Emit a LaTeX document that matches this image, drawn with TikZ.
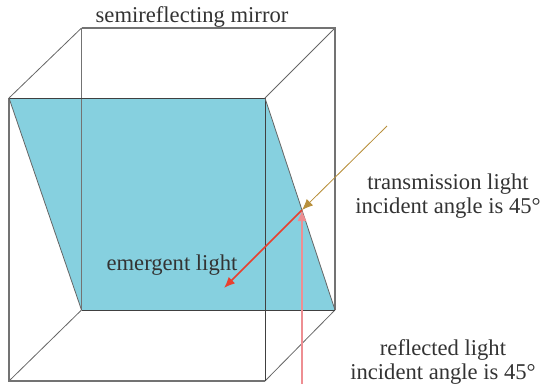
\documentclass[tikz,border=0pt]{standalone}
\usepackage{fontspec}
\setmainfont{Liberation Serif}
\usetikzlibrary{arrows.meta}
\definecolor{mirrorblue}{HTML}{86D0DF}
\definecolor{txt}{HTML}{333333}
\definecolor{gold}{HTML}{B8903C}
\definecolor{redray}{HTML}{E8402F}
\definecolor{pinkray}{HTML}{EE8E92}
\tikzset{
  lab/.style={text=txt,font=\fontsize{22.6}{24}\selectfont,align=center,inner sep=0pt},
  edgebox/.style={draw=black!55,line width=1.1pt},
  edgediag/.style={draw=black!60,line width=0.8pt},
  edgedark/.style={draw=black!75,line width=0.9pt},
  tip/.style={-{Latex[length=11pt,width=9pt]}}
}
\begin{document}
\begin{tikzpicture}[x=1pt,y=-1pt]
\useasboundingbox (0,0) rectangle (540,384);
\coordinate (fa) at (9,98);
\coordinate (fb) at (265,98);
\coordinate (fc) at (265,381);
\coordinate (fd) at (9,381);
\coordinate (ba) at (81.5,28);
\coordinate (bb) at (335,28);
\coordinate (bc) at (335,310);
\coordinate (bd) at (81.5,310);
\coordinate (src) at (387,126);
\coordinate (hit) at (302,210);
\coordinate (out) at (224,288);
\coordinate (low) at (302,384);
\fill[mirrorblue] (fa) -- (fb) -- (bc) -- (bd) -- cycle;
\draw[edgediag] (fa) -- (ba) (bb) -- (fb) (bd) -- (fd) (bc) -- (fc);
\draw[edgebox] (ba) -- (bb) -- (bc);
\draw[edgebox] (ba) -- (bd);
\draw[edgebox] (fa) -- (fd) -- (fc);
\draw[edgedark] (fa) -- (fb) -- (fc);
\draw[edgedark] (bd) -- (bc);
\draw[edgediag] (fa) -- (bd) (fb) -- (bc);
\draw[tip,draw=pinkray,fill=redray,line width=1.3pt] (low) -- (hit);
\draw[tip,draw=redray,fill=redray,line width=1.5pt] (hit) -- (out);
\draw[tip,draw=gold,fill=gold,line width=0.8pt] (src) -- (hit);
\node[lab] (title) at (192,17) {semireflecting mirror};
\node[lab] (emerge) at (172,265) {emergent light};
\node[lab] (trans) at (448,196) {transmission light\\incident angle is 45°};
\node[lab] (refl) at (443,362) {reflected light\\incident angle is 45°};
\end{tikzpicture}
\end{document}
